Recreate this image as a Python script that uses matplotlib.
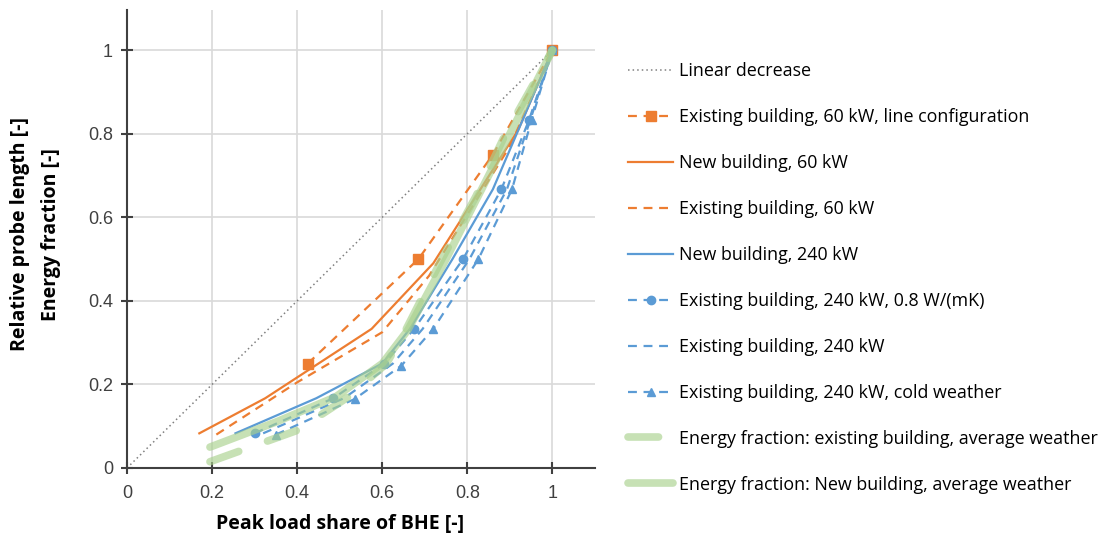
import matplotlib.pyplot as plt

# data
linear_x = [0, 1]
linear_y = [0, 1]

ex60_line_x = [0.425, 0.685, 0.86, 1.0]
ex60_line_y = [0.25, 0.5, 0.75, 1.0]

new60_x = [0.17, 0.325, 0.575, 0.72, 0.92, 1.0]
new60_y = [0.083, 0.167, 0.333, 0.49, 0.81, 1.0]

ex60_x = [0.21, 0.40, 0.60, 0.71, 0.90, 1.0]
ex60_y = [0.08, 0.205, 0.325, 0.46, 0.77, 1.0]

new240_x = [0.255, 0.445, 0.60, 0.665, 0.765, 0.86, 0.93, 1.0]
new240_y = [0.083, 0.167, 0.25, 0.333, 0.5, 0.667, 0.833, 1.0]

ex240_08_x = [0.30, 0.485, 0.605, 0.675, 0.79, 0.88, 0.945, 1.0]
ex240_08_y = [0.083, 0.167, 0.25, 0.333, 0.5, 0.667, 0.833, 1.0]

ex240_x = [0.32, 0.51, 0.625, 0.695, 0.805, 0.893, 0.948, 1.0]
ex240_y = [0.083, 0.167, 0.25, 0.333, 0.5, 0.667, 0.833, 1.0]

ex240_cold_x = [0.35, 0.535, 0.645, 0.72, 0.826, 0.905, 0.951, 1.0]
ex240_cold_y = [0.08, 0.165, 0.245, 0.333, 0.5, 0.667, 0.833, 1.0]

ef_ex_x = [0.195, 0.40, 0.52, 0.61, 0.655, 0.74, 0.82, 0.89, 1.0]
ef_ex_y = [0.015, 0.09, 0.17, 0.25, 0.33, 0.5, 0.65, 0.8, 1.0]

ef_new_x = [0.195, 0.35, 0.49, 0.60, 0.66, 0.75, 0.85, 1.0]
ef_new_y = [0.05, 0.11, 0.17, 0.25, 0.33, 0.5, 0.7, 1.0]

ticks = [0, 0.2, 0.4, 0.6, 0.8, 1]
tick_labels = ["0", "0.2", "0.4", "0.6", "0.8", "1"]

orange = "#ED7D31"
blue = "#5B9BD5"
green = "#A9D18E"
text_font = "Open Sans"

fig = plt.figure(figsize=(11.02, 5.39), dpi=100)
ax = fig.add_axes([127 / 1102, 71 / 539, 468 / 1102, 458 / 539])

ax.plot(linear_x, linear_y, color="#808080", lw=1.1, ls=(0, (1, 2)),
        label="Linear decrease")
ax.plot(ex60_line_x, ex60_line_y, color=orange, lw=1.6, ls=(0, (4, 3)),
        marker="s", ms=6.5, label="Existing building, 60 kW, line configuration")
ax.plot(new60_x, new60_y, color=orange, lw=1.6, label="New building, 60 kW")
ax.plot(ex60_x, ex60_y, color=orange, lw=1.6, ls=(0, (4, 3)),
        label="Existing building, 60 kW")
ax.plot(new240_x, new240_y, color=blue, lw=1.6, label="New building, 240 kW")
ax.plot(ex240_08_x, ex240_08_y, color=blue, lw=1.6, ls=(0, (4, 3)),
        marker="o", ms=6, label="Existing building, 240 kW, 0.8 W/(mK)")
ax.plot(ex240_x, ex240_y, color=blue, lw=1.6, ls=(0, (4, 3)),
        label="Existing building, 240 kW")
ax.plot(ex240_cold_x, ex240_cold_y, color=blue, lw=1.6, ls=(0, (4, 3)),
        marker="^", ms=6, label="Existing building, 240 kW, cold weather")
ax.plot(ef_ex_x, ef_ex_y, color=green, lw=5.5, alpha=0.65, ls=(0, (4, 4)),
        dash_capstyle="round",
        label="Energy fraction: existing building, average weather")
ax.plot(ef_new_x, ef_new_y, color=green, lw=5.5, alpha=0.65,
        solid_capstyle="round",
        label="Energy fraction: New building, average weather")

ax.set_xlim(0, 1.1)
ax.set_ylim(0, 1.096)
ax.set_xticks(ticks)
ax.set_xticklabels(tick_labels)
ax.set_yticks(ticks)
ax.set_yticklabels(tick_labels)
ax.grid(True, color="#d9d9d9", lw=1.2)
ax.set_axisbelow(True)
for side in ["top", "right"]:
    ax.spines[side].set_visible(False)
for side in ["left", "bottom"]:
    ax.spines[side].set_linewidth(1.5)
    ax.spines[side].set_color("#404040")
ax.tick_params(direction="inout", length=8, width=1.5, color="#404040",
               labelsize=13, labelcolor="#404040", pad=6)
ax.tick_params(axis="x", pad=8)
for lbl in ax.get_xticklabels() + ax.get_yticklabels():
    lbl.set_fontfamily("Liberation Sans")

ax.set_xlabel("Peak load share of BHE [-]", fontsize=14, fontweight="bold",
              family=text_font, labelpad=9)
ax.xaxis.set_label_coords(213 / 468, -0.1)
ax.set_ylabel("Relative probe length [-]\nEnergy fraction [-]", fontsize=14,
              fontweight="bold", family=text_font, linespacing=1.75)
ax.yaxis.set_label_coords(-66 / 468, 0.51)

fig.legend(loc="upper left", bbox_to_anchor=(612 / 1102, 1 - 46 / 539),
           frameon=False, prop={"family": text_font, "size": 12.9},
           labelspacing=1.56, handlelength=2.5, handletextpad=0.33)

fig.savefig("out.png", dpi=100)
